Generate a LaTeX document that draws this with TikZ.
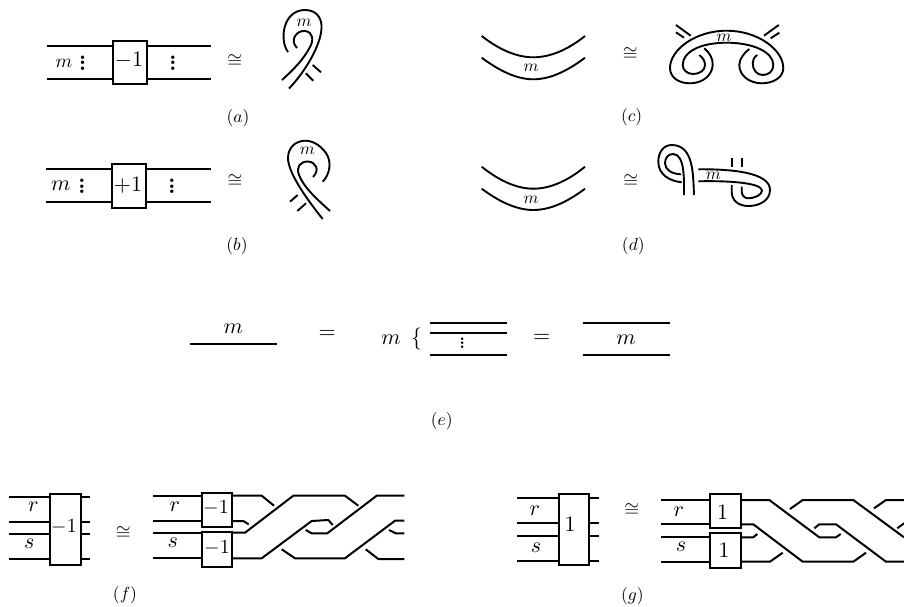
\documentclass[tikz,border=0pt]{standalone}
\usepackage{amsmath,amssymb}
\tikzset{
  strand/.style={line width=2pt,line cap=butt,line join=round},
  knot/.style={line width=1.9pt,line cap=butt},
  boxnode/.style={draw,line width=2pt,fill=white,inner sep=0pt,anchor=north west},
  lab/.style={inner sep=0pt,scale=1.9},
  labm/.style={inner sep=0pt,scale=2.0},
  labb/.style={inner sep=0pt,scale=2.2},
  smalltxt/.style={inner sep=0pt,scale=1.7},
  captxt/.style={inner sep=0pt,scale=1.75},
  dotstxt/.style={inner sep=0pt,scale=2.2,font=\bfseries},
}
\newcommand{\dotcol}{\vbox{\baselineskip=2.6pt\lineskiplimit=-10pt\hbox{.}\hbox{.}\hbox{.}}}
\begin{document}
\begin{tikzpicture}[x=1pt,y=-1pt]
\useasboundingbox (0,0) rectangle (904,606);
% (a)
\draw[strand] (46.7,46.3)--(211,46.3) (46.7,79)--(211,79);
\node[boxnode,minimum width=33.7pt,minimum height=43pt] (boxa) at (112,40.3) {};
\node[labb] (boxatxt) at (129,60) {$-1$};
\node[lab] (ma) at (64,63) {$m$};
\node[dotstxt] (da1) at (82.7,63) {\dotcol};
\node[dotstxt] (da2) at (173,63) {\dotcol};
\node[lab] (conga) at (234.7,61) {$\cong$};
\node[captxt] (capa) at (238,118) {$(a)$};
\draw[knot] (288,52) .. controls (279,40) and (283,10) .. (305,10) .. controls (318,10) and (322,20) .. (321.5,28) .. controls (321,45) and (305,72) .. (289,88.5);
\draw[knot] (297,48) .. controls (289,40) and (297,30) .. (305,31) .. controls (313,32) and (314,40) .. (310,47) .. controls (303,60) and (295,68) .. (282,80);
\draw[knot] (305.7,73.3)--(313.3,80.7) (312.7,65)--(321,72.3);
\node[smalltxt] (mak) at (304,23) {$m$};
% (b)
\draw[strand] (46,169.3)--(210.6,169.3) (46,201.7)--(210.6,201.7);
\node[boxnode,minimum width=34pt,minimum height=43.7pt] (boxb) at (111,163.3) {};
\node[labb] (boxbtxt) at (128,185) {$+1$};
\node[labb] (mb) at (60.7,186) {$m$};
\node[dotstxt] (db1) at (82,186.5) {\dotcol};
\node[dotstxt] (db2) at (172,186.5) {\dotcol};
\node[lab] (congb) at (235,181) {$\cong$};
\node[captxt] (capb) at (237,246) {$(b)$};
\draw[knot] (322.7,181.7) .. controls (330,174) and (332,162) .. (326,153) .. controls (320,145) and (313,140.7) .. (305,140.7) .. controls (295,141) and (288,148) .. (288,158) .. controls (288,172) and (305,197) .. (322.7,219);
\draw[knot] (313,177) .. controls (320,170) and (316,162) .. (308,161.5) .. controls (300,161.5) and (296,167) .. (299,175) .. controls (304,188) and (318,200) .. (330,211);
\draw[knot] (290,201.7)--(297.7,195) (297.3,211)--(306,203.3);
\node[smalltxt] (mbk) at (307.3,151) {$m$};
% (c)
\draw[knot] (481.7,36) .. controls (497,48) and (515,57.3) .. (533.3,57.3) .. controls (552,57.3) and (570,48) .. (585,36);
\draw[knot] (481.7,57.7) .. controls (497,69) and (515,79.3) .. (533.3,79.3) .. controls (552,79.3) and (570,69) .. (585,57.7);
\node[smalltxt] (mc) at (531,68.3) {$m$};
\node[lab] (congc) at (630.3,54) {$\cong$};
\node[captxt] (capc) at (631.7,116.7) {$(c)$};
\draw[knot] (704.3,48.3) .. controls (710,53) and (713,59) .. (712.7,65) .. controls (712,76) and (702,83.3) .. (690,83.3) .. controls (678,83.3) and (670,77) .. (670,68) .. controls (670,50) and (695,30.7) .. (726.7,30.7) .. controls (758,30.7) and (783.3,50) .. (783.3,68) .. controls (783.3,77) and (774,83.3) .. (761.7,83.3) .. controls (750,83.3) and (739.3,76) .. (739.3,65) .. controls (739.3,59) and (744,53) .. (749.3,49);
\draw[knot] (699.3,55) .. controls (703,58) and (705,61) .. (705,65) .. controls (705,70) and (700,74) .. (693.3,74) .. controls (687,74) and (682.7,70) .. (682.7,65) .. controls (682.7,52) and (700,42.7) .. (726.7,42.7) .. controls (753,42.7) and (773.3,52) .. (773.3,65) .. controls (773.3,71) and (769,75) .. (762.7,75) .. controls (757,75) and (752.7,70) .. (752.7,63.3) .. controls (752.7,60) and (754,57) .. (757.3,55);
\draw[knot] (676,25)--(690.7,35.7) (676,32.3)--(684,37.7) (764,35.7)--(778.7,25) (770.7,38.3)--(779.3,32.7);
\node[smalltxt] (mck) at (724,37.5) {$m$};
% (d)
\draw[knot] (481.7,166.7) .. controls (497,179) and (515,188.7) .. (533.3,188.7) .. controls (552,188.7) and (570,179) .. (585,166.7);
\draw[knot] (481.7,188.7) .. controls (497,200) and (515,210) .. (533.3,210) .. controls (552,210) and (570,200) .. (585,188.7);
\node[smalltxt] (md) at (531,200.3) {$m$};
\node[lab] (congd) at (630.7,181) {$\cong$};
\node[captxt] (capd) at (633.3,246) {$(d)$};
\draw[knot] (694,195) .. controls (693,175) and (694,145) .. (671.7,145) .. controls (663,145) and (658.3,153) .. (658.3,161.7) .. controls (658.3,175) and (670,181) .. (681.7,182.3);
\draw[knot] (684,195) .. controls (684,180) and (685,154) .. (673,154) .. controls (668,154) and (665,158) .. (665,163.3) .. controls (665,170) and (672,174) .. (681,174.3);
\draw[knot] (698.3,169.3) .. controls (730,169) and (770,172) .. (770,190) .. controls (770,200) and (760,206) .. (748.3,206) .. controls (738,206) and (731.7,200) .. (731.7,192) -- (731.7,185);
\draw[knot] (698.3,181.3) .. controls (730,180.5) and (762,183) .. (762,190.7) .. controls (762,195) and (754,198.3) .. (748.3,198.3) .. controls (744,198.3) and (741.7,195) .. (741.7,191) -- (741.7,186.7);
\draw[knot] (731.7,158.3)--(731.7,167) (741.7,158.3)--(741.7,167);
\node[smalltxt] (mdk) at (713.3,176) {$m$};
% (e)
\draw[strand] (190,344.3)--(277.3,344.3);
\node[labb] (me1) at (233.3,328.3) {$m$};
\node[labb] (eq1) at (327.3,334) {$=$};
\node[labb] (me2) at (391,340) {$m$};
\node[labb] (brace) at (416.7,339.3) {$\{$};
\draw[strand] (430,322.7)--(506.7,322.7) (430,333.3)--(506.7,333.3) (430,355)--(506.7,355);
\node[dotstxt,scale=0.75] (de) at (462.3,343) {\dotcol};
\node[labb] (eq2) at (541.7,338.3) {$=$};
\draw[strand] (582.7,322.7)--(670,322.7) (582.7,355)--(670,355);
\node[labb] (me3) at (626,340) {$m$};
\node[captxt] (cape) at (441.7,420.7) {$(e)$};
% (f) left
\draw[strand] (9,496.7)--(90,496.7) (9,522.3)--(90,522.3) (9,534.3)--(90,534.3) (9,559.3)--(90,559.3);
\node[boxnode,minimum width=30.7pt,minimum height=71pt] (boxf) at (49.3,493.3) {};
\node[labm] (boxftxt) at (64,526.7) {$-1$};
\node[labb] (rf) at (33.3,507) {$r$};
\node[labb] (sf) at (29.3,544) {$s$};
\node[lab] (congf) at (123.3,533) {$\cong$};
\node[captxt] (capf) at (125,595) {$(f)$};
% (f) right
\draw[strand] (153.3,495.7)--(200.7,495.7) (153.3,521)--(200.7,521) (153.3,532.7)--(200.7,532.7) (153.3,558.3)--(200.7,558.3);
\node[boxnode,minimum width=30.3pt,minimum height=34pt] (boxf1) at (200.7,491.7) {};
\node[boxnode,minimum width=30.3pt,minimum height=35pt] (boxf2) at (200.7,530.7) {};
\node[labm] (boxf1txt) at (216,508.3) {$-1$};
\node[labm] (boxf2txt) at (217,547.7) {$-1$};
\node[labb] (rf2) at (175,507) {$r$};
\node[labb] (sf2) at (172.7,543) {$s$};
\draw[strand] (231,495.7)--(261.7,495.7)--(274,505.7);
\draw[strand] (231,521)--(243.3,521)--(248.7,524.3);
\draw[strand] (231,532.7)--(245,532.7)--(293.3,495.7)--(345,495.7)--(358.3,505.7);
\draw[strand] (231,558.3)--(261.7,558.3)--(311.7,521)--(328.3,520)--(332.7,525);
\draw[strand] (305.7,530)--(311.7,533.3)--(327.3,533.3)--(376.7,495.7)--(404.3,495.7);
\draw[strand] (281.7,549.3)--(295,558.3)--(345,558.3)--(395,520.7)--(404.3,520.7);
\draw[strand] (389,530)--(395.7,533.3)--(404.3,533.3);
\draw[strand] (365.7,549.3)--(378.3,559)--(404.3,559);
% (g) left
\draw[strand] (517.3,498.3)--(598.7,498.3) (517.3,523.3)--(598.7,523.3) (517.3,536)--(598.7,536) (517.3,561)--(598.7,561);
\node[boxnode,minimum width=30.7pt,minimum height=71pt] (boxg) at (557.7,493.3) {};
\node[labb] (boxgtxt) at (570,524.3) {$1$};
\node[labb] (rg) at (535,510.5) {$r$};
\node[labb] (sg) at (536,547.5) {$s$};
\node[lab] (congg) at (631.7,510) {$\cong$};
\node[captxt] (capg) at (632.3,595.7) {$(g)$};
% (g) right
\draw[strand] (661.3,500)--(709,500) (661.3,524.3)--(709,524.3) (661.3,537.3)--(709,537.3) (661.3,561.7)--(709,561.7);
\node[boxnode,minimum width=31pt,minimum height=34.6pt] (boxg1) at (709,492.7) {};
\node[boxnode,minimum width=31pt,minimum height=34.4pt] (boxg2) at (709,532.3) {};
\node[labb] (boxg1txt) at (722.7,512) {$1$};
\node[labb] (boxg2txt) at (724,550) {$1$};
\node[labb] (rg2) at (679,511.5) {$r$};
\node[labb] (sg2) at (681,546.5) {$s$};
\draw[strand] (740,500)--(769.3,500)--(819.3,537.3)--(836,537.3)--(840.7,534);
\draw[strand] (740,524.3)--(753.3,524.3)--(802.7,561.7)--(853.3,561.7)--(866,552.7);
\draw[strand] (740,537.3)--(753.3,537.3)--(757.3,534);
\draw[strand] (740,561.7)--(770,561.7)--(782.7,552.7);
\draw[strand] (790,509)--(802.7,500)--(853.3,500)--(904,537.3);
\draw[strand] (814.3,528.3)--(819.3,524.3)--(836,524.3)--(886,561.7)--(904,561.7);
\draw[strand] (874,508.3)--(886,500)--(904,500);
\draw[strand] (897.3,528.3)--(904,523.3);
\end{tikzpicture}
\end{document}
